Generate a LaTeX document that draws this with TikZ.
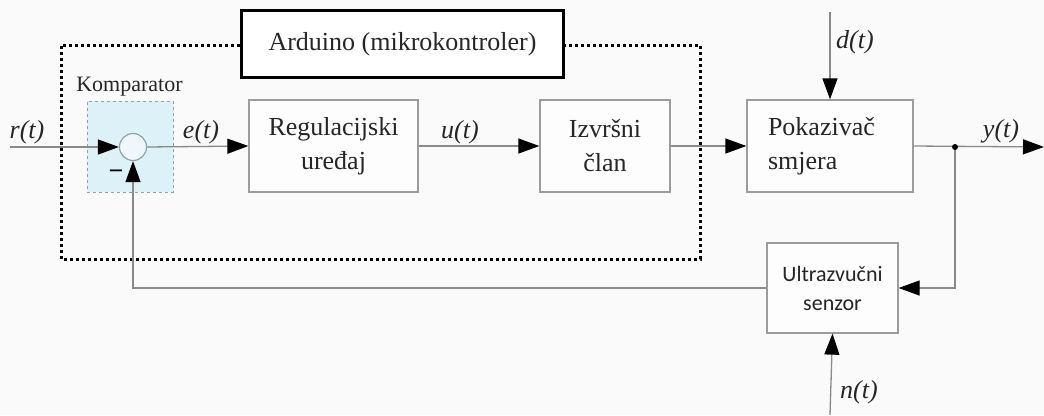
\documentclass[tikz,border=0pt]{standalone}
\usepackage{fontspec}
\setmainfont{Liberation Serif}
\newfontfamily\sensfont{Carlito}
\usetikzlibrary{arrows.meta}
\definecolor{bg}{HTML}{FAFAFA}
\definecolor{linec}{HTML}{8A8A8A}
\definecolor{boxc}{HTML}{9C9C9C}
\definecolor{txtc}{HTML}{262626}
\definecolor{komfill}{HTML}{DDF1F9}
\definecolor{komline}{HTML}{8FA3AB}
\tikzset{
  blk/.style={draw=boxc, line width=1.3pt, fill=white!60!bg, text=txtc, align=center, inner sep=0pt,
    font=\fontsize{26}{34}\selectfont},
  conn/.style={draw=linec, line width=1.3pt},
  arr/.style={conn, -{Triangle[length=21pt,width=15pt,color=black]}},
  sig/.style={font=\fontsize{26}{30}\selectfont\itshape, text=txtc, inner sep=0pt},
}
\begin{document}
\begin{tikzpicture}[x=1pt,y=-1pt]
\fill[bg] (0,0) rectangle (1044,415);
\useasboundingbox (0,0) rectangle (1044,415);
% dotted Arduino frame
\draw[line width=3pt, dash pattern=on 3pt off 3pt, black] (240,45) -- (61,45) -- (61,259) -- (700,259) -- (700,45) -- (565,45);
\node[draw=black, line width=3pt, fill=white, minimum width=322pt, minimum height=67pt, inner sep=0pt,
  font=\fontsize{26}{30}\selectfont, text=txtc] (ard) at (402.5,44) {Arduino (mikrokontroler)};
% comparator
\node[draw=komline, dashed, line width=1pt, fill=komfill, minimum width=86pt, minimum height=91pt, inner sep=0pt] (kbox) at (130,146.5) {};
\node[font=\fontsize{22}{24}\selectfont, text=txtc, inner sep=0pt] (klab) at (129.5,87) {Komparator};
\node[circle, draw=komline, line width=1.2pt, fill=white!50!komfill, minimum size=27pt, inner sep=0pt] (sum) at (133,147) {};
\node[font=\bfseries\fontsize{26}{30}\selectfont, text=black, inner sep=0pt] (minus) at (116,175) {−};
% blocks
\node[blk, minimum width=169pt, minimum height=92pt] (reg) at (333.5,146) {Regulacijski\\uređaj};
\node[blk, minimum width=130pt, minimum height=92pt] (izv) at (605,146) {Izvršni\\član};
\node[blk, minimum width=166pt, minimum height=92pt, align=left, text width=124pt] (pok) at (830,146) {Pokazivač\\smjera};
\node[blk, minimum width=131pt, minimum height=90pt, font=\sensfont\fontsize{22}{29}\selectfont] (sens) at (832.5,288) {Ultrazvučni\\senzor};
% free ends
\coordinate (rin) at (10,147);
\coordinate (yout) at (1044,147);
\coordinate (dtop) at (830,12);
\coordinate (nbot) at (830,415);
\coordinate (j) at (955,147);
% connectors
\draw[arr] (rin) -- (sum.west);
\draw[arr] (sum.east) -- (reg.west);
\draw[arr] (reg.east) -- (izv.west);
\draw[arr] (izv.east) -- (pok.west);
\draw[arr] (pok.east) -- (yout);
\draw[arr] (dtop) -- (pok.north);
\draw[arr] (nbot) -- (sens.south);
\draw[arr] (j) |- (sens.east);
\draw[arr] (sens.west) -| (sum.south);
\fill[black] (j) circle (3pt);
% signal labels
\node[sig] (lr) at (27,132) {r(t)};
\node[sig] (le) at (201,132) {e(t)};
\node[sig] (lu) at (460,132) {u(t)};
\node[sig] (ly) at (1001,131) {y(t)};
\node[sig] (ld) at (855,42) {d(t)};
\node[sig] (ln) at (859,392) {n(t)};
\end{tikzpicture}
\end{document}
